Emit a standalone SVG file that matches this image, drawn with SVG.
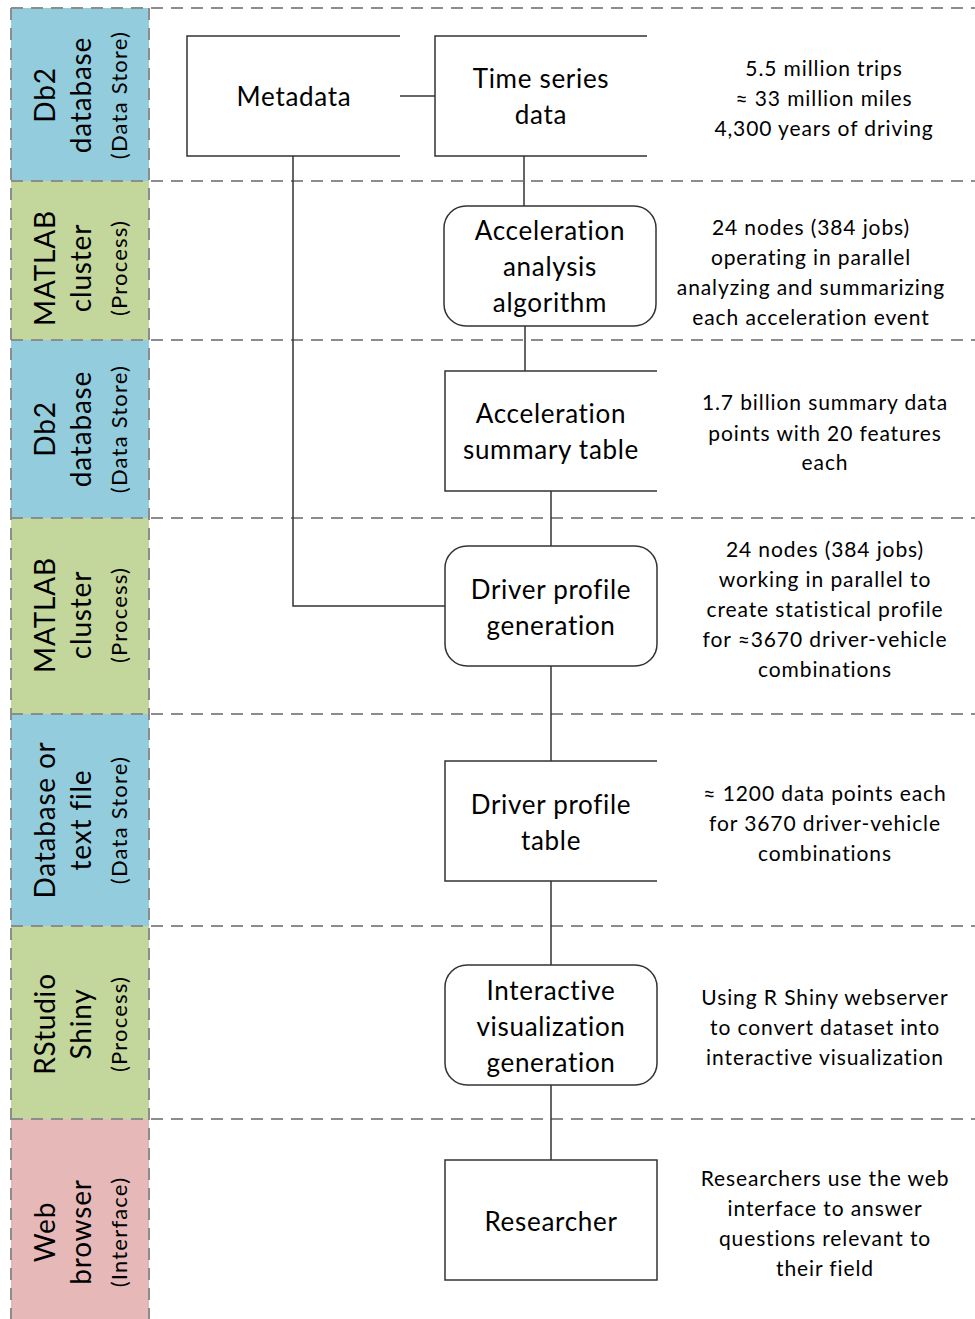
<svg xmlns="http://www.w3.org/2000/svg" width="975" height="1319" viewBox="0 0 975 1319">
<style>
.store{fill:#93CDDD}
.proc{fill:#C3D69B}
.iface{fill:#E6B9B8}
.dash{stroke:#8C8C8C;stroke-width:2;stroke-dasharray:12 8;fill:none}
.ln{stroke:#333;stroke-width:1.5;fill:none}
.box{fill:#fff;stroke:#333;stroke-width:1.5}
.t{font-family:Lato,"Open Sans",sans-serif;fill:#000;text-anchor:middle;dominant-baseline:central}
.nt{font-size:26px;letter-spacing:0.7px}
.rt{font-size:21px;letter-spacing:0.9px}
.l1{font-size:28px;letter-spacing:0.8px}
.l3{font-size:22px;letter-spacing:1.2px}
</style>
<rect width="975" height="1319" fill="#fff"/>
<g id="lanes">
<rect class="store" x="11" y="8" width="138" height="173"/>
<rect class="proc" x="11" y="181" width="138" height="159"/>
<rect class="store" x="11" y="340" width="138" height="178"/>
<rect class="proc" x="11" y="518" width="138" height="196"/>
<rect class="store" x="11" y="714" width="138" height="212"/>
<rect class="proc" x="11" y="926" width="138" height="193"/>
<rect class="iface" x="11" y="1119" width="138" height="200"/>
<path class="dash" d="M11 8H975M11 181H975M11 340H975M11 518H975M11 714H975M11 926H975M11 1119H975M11 8V1319M149 8V1319"/>
</g>
<g id="lane-labels" class="t">
<g transform="translate(0,95)"><text class="l1" transform="translate(44,0) rotate(-90)">Db2</text><text class="l1" transform="translate(80,0) rotate(-90)">database</text><text class="l3" transform="translate(118,0) rotate(-90)">(Data Store)</text></g>
<g transform="translate(0,268)"><text class="l1" transform="translate(44,0) rotate(-90)">MATLAB</text><text class="l1" transform="translate(80,0) rotate(-90)">cluster</text><text class="l3" transform="translate(118,0) rotate(-90)">(Process)</text></g>
<g transform="translate(0,429)"><text class="l1" transform="translate(44,0) rotate(-90)">Db2</text><text class="l1" transform="translate(80,0) rotate(-90)">database</text><text class="l3" transform="translate(118,0) rotate(-90)">(Data Store)</text></g>
<g transform="translate(0,615)"><text class="l1" transform="translate(44,0) rotate(-90)">MATLAB</text><text class="l1" transform="translate(80,0) rotate(-90)">cluster</text><text class="l3" transform="translate(118,0) rotate(-90)">(Process)</text></g>
<g transform="translate(0,820)"><text class="l1" transform="translate(44,0) rotate(-90)">Database or</text><text class="l1" transform="translate(80,0) rotate(-90)">text file</text><text class="l3" transform="translate(118,0) rotate(-90)">(Data Store)</text></g>
<g transform="translate(0,1024)"><text class="l1" transform="translate(44,0) rotate(-90)">RStudio</text><text class="l1" transform="translate(80,0) rotate(-90)">Shiny</text><text class="l3" transform="translate(118,0) rotate(-90)">(Process)</text></g>
<g transform="translate(0,1232)"><text class="l1" transform="translate(44,0) rotate(-90)">Web</text><text class="l1" transform="translate(80,0) rotate(-90)">browser</text><text class="l3" transform="translate(118,0) rotate(-90)">(Interface)</text></g>
</g>
<g id="connectors" class="ln">
<path d="M400 96H435"/>
<path d="M293 156V606H445"/>
<path d="M524 156V206"/>
<path d="M525 326V371"/>
<path d="M551 491V546"/>
<path d="M551 666V761"/>
<path d="M551 881V965"/>
<path d="M551 1085V1160"/>
</g>
<g id="metadata"><path class="ln" d="M400 36H187V156H400"/><text class="t nt" x="294" y="96">Metadata</text></g>
<g id="timeseries"><path class="ln" d="M647 36H435V156H647"/><text class="t nt" x="541" y="78">Time series</text><text class="t nt" x="541" y="114">data</text></g>
<g id="accel-algo"><rect class="box" x="444" y="206" width="212" height="120" rx="22"/><text class="t nt" x="550" y="230">Acceleration</text><text class="t nt" x="550" y="266">analysis</text><text class="t nt" x="550" y="302">algorithm</text></g>
<g id="accel-table"><path class="ln" d="M657 371H445V491H657"/><text class="t nt" x="551" y="413">Acceleration</text><text class="t nt" x="551" y="449">summary table</text></g>
<g id="profile-gen"><rect class="box" x="445" y="546" width="212" height="120" rx="22"/><text class="t nt" x="551" y="589">Driver profile</text><text class="t nt" x="551" y="625">generation</text></g>
<g id="profile-table"><path class="ln" d="M657 761H445V881H657"/><text class="t nt" x="551" y="804">Driver profile</text><text class="t nt" x="551" y="840">table</text></g>
<g id="viz"><rect class="box" x="445" y="965" width="212" height="120" rx="22"/><text class="t nt" x="551" y="990">Interactive</text><text class="t nt" x="551" y="1026">visualization</text><text class="t nt" x="551" y="1062">generation</text></g>
<g id="researcher"><rect class="box" x="445" y="1160" width="212" height="120"/><text class="t nt" x="551" y="1221">Researcher</text></g>
<g id="notes" class="t rt">
<text x="824" y="67">5.5 million trips</text><text x="824" y="97">≈ 33 million miles</text><text x="824" y="127">4,300 years of driving</text>
<text x="811" y="226">24 nodes (384 jobs)</text><text x="811" y="256">operating in parallel</text><text x="811" y="286">analyzing and summarizing</text><text x="811" y="316">each acceleration event</text>
<text x="825" y="401">1.7 billion summary data</text><text x="825" y="432">points with 20 features</text><text x="825" y="461">each</text>
<text x="825" y="548">24 nodes (384 jobs)</text><text x="825" y="578">working in parallel to</text><text x="825" y="608">create statistical profile</text><text x="825" y="638">for ≈3670 driver-vehicle</text><text x="825" y="668">combinations</text>
<text x="825" y="792">≈ 1200 data points each</text><text x="825" y="822">for 3670 driver-vehicle</text><text x="825" y="852">combinations</text>
<text x="825" y="996">Using R Shiny webserver</text><text x="825" y="1026">to convert dataset into</text><text x="825" y="1056">interactive visualization</text>
<text x="825" y="1177">Researchers  use the web</text><text x="825" y="1207">interface to answer</text><text x="825" y="1237">questions relevant to</text><text x="825" y="1267">their field</text>
</g>
</svg>
